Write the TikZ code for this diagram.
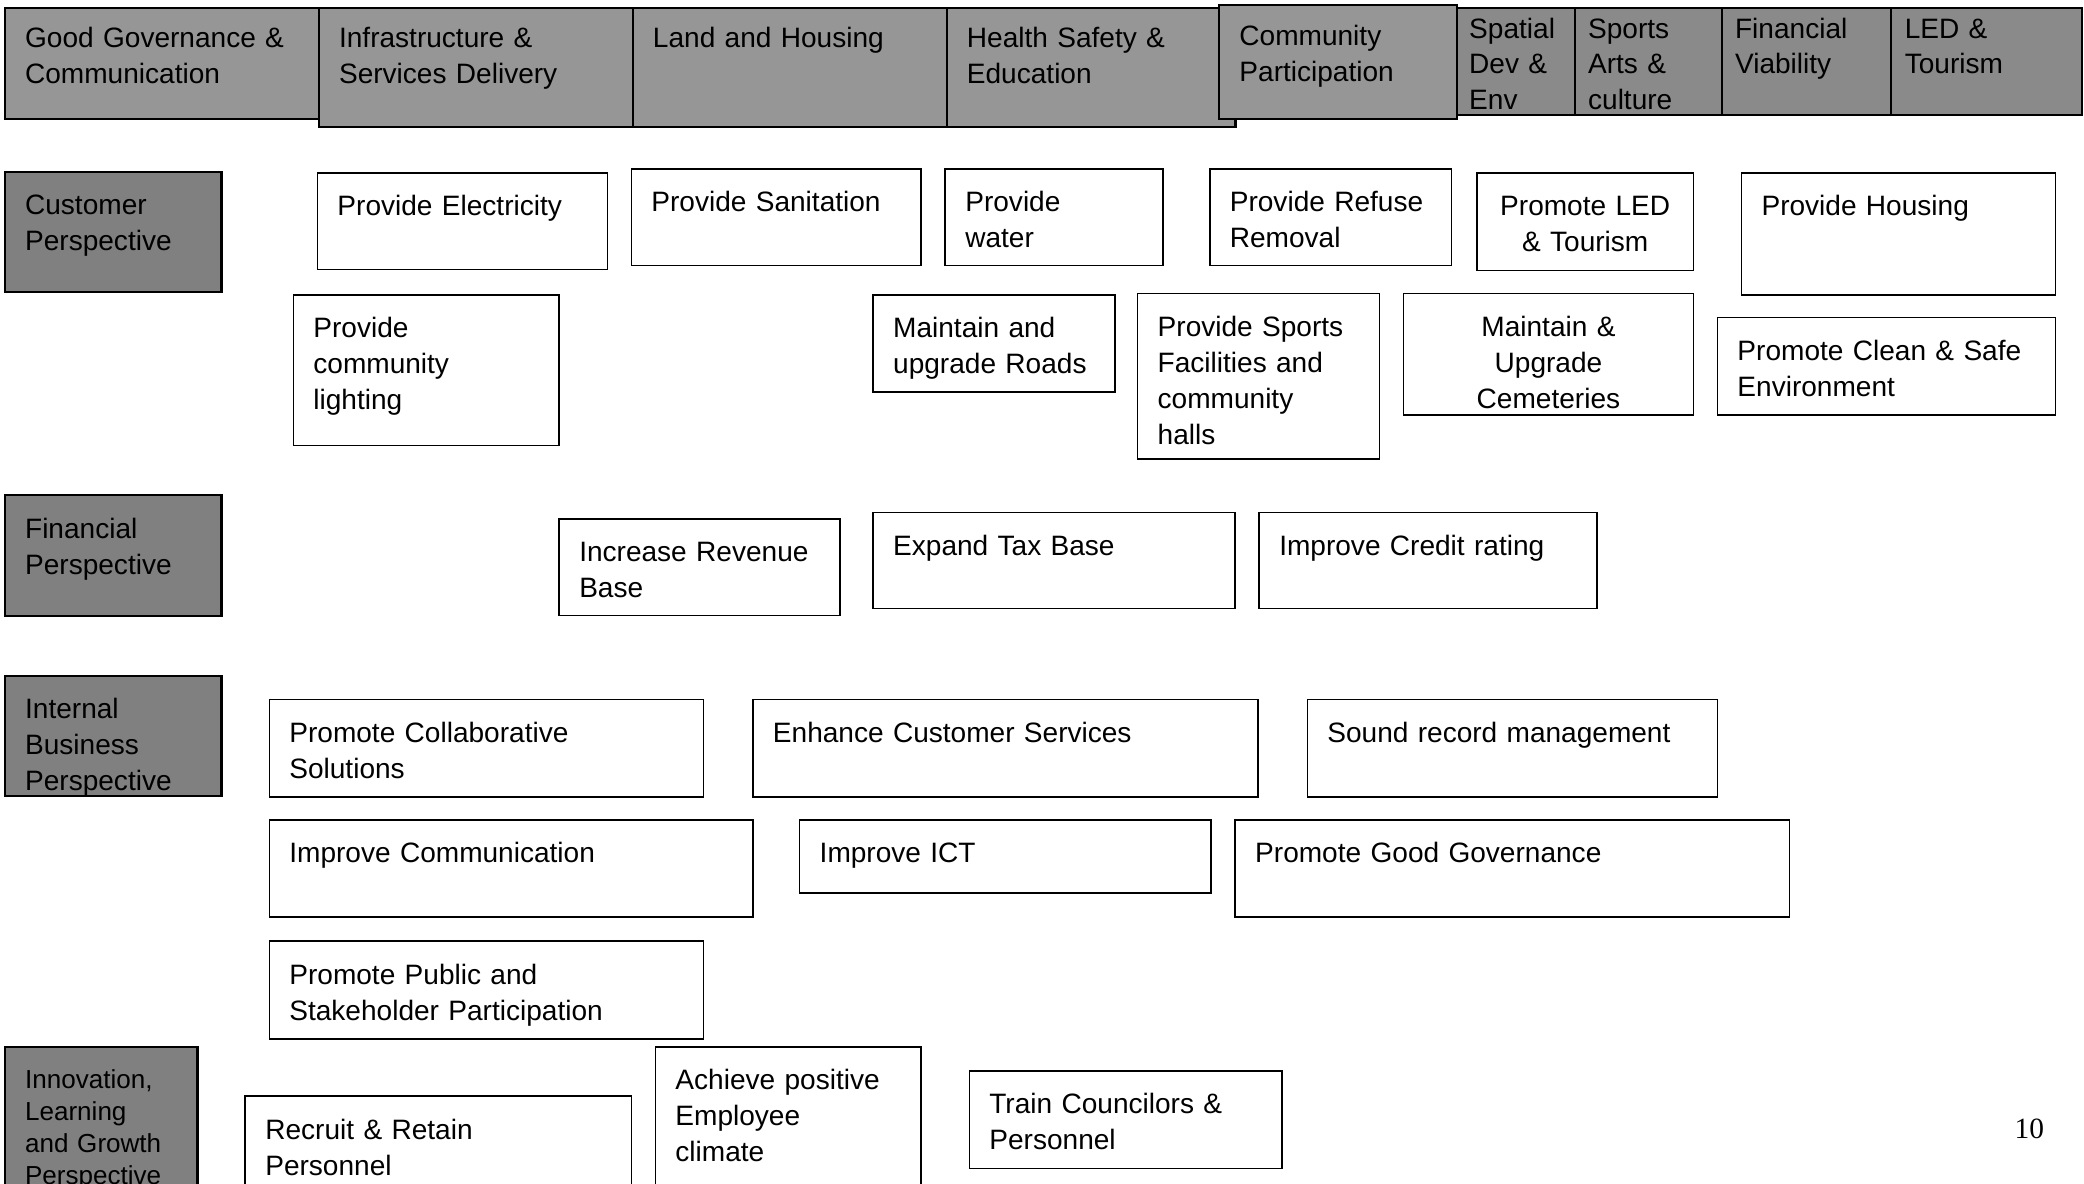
\documentclass[tikz,border=0pt]{standalone}
\usepackage{fontspec}
\setmainfont{Liberation Sans}
\newfontfamily\pagenofont{Liberation Serif}
\usetikzlibrary{positioning}

\definecolor{headgray}{RGB}{150,150,150}
\definecolor{rightgray}{RGB}{138,138,138}
\definecolor{sidegray}{RGB}{128,128,128}

\newcommand\padx{15}
\newcommand\padt{32}
\newcommand\boxfont{\fontsize{21}{27}\selectfont}
\newcommand\smallboxfont{\fontsize{19.5}{24}\selectfont}

\tikzset{
    pad/.code={\def\padx{#1}},
    lead/.code={\def\padt{#1}},
    wh/.style 2 args={/utils/exec={\pgfmathsetmacro\boxtw{#1-2*\padx}\pgfmathsetmacro\boxtd{#2-\padt}},
        text width=\boxtw pt, text height=\padt pt, text depth=\boxtd pt, inner xsep=\padx pt},
    base/.style={draw, anchor=north west, align=left, inner ysep=0pt, font=\boxfont},
    head/.style={base, fill=headgray, line width=1.6pt, lead=30},
    narrowhead/.style={head, fill=rightgray, pad=9, lead=23, font=\fontsize{21}{26.5}\selectfont},
    side/.style={base, fill=sidegray, line width=1.6pt},
    goal/.style={base, fill=white, line width=1.2pt},
}

\begin{document}
\begin{tikzpicture}[x=1pt, y=-1pt]
    \useasboundingbox (0,0) rectangle (1560,886);

    \node[head, wh={235}{83}]                   (gov)     at (3,5)      {Good Governance \&\\Communication};
    \node[head, wh={235}{89}]                   (infra)   at (238,5)    {Infrastructure \&\\Services Delivery};
    \node[head, wh={235}{89}]                   (land)    at (473,5)    {Land and Housing};
    \node[head, wh={216}{89}]                   (health)  at (708,5)    {Health Safety \&\\Education};
    \node[head, wh={178}{85}]                   (commp)   at (912,3)    {Community\\Participation};
    \node[narrowhead, wh={88}{80}]              (spatial) at (1090,5)   {Spatial\\Dev \&\\Env};
    \node[narrowhead, pad=10, wh={110}{80}]     (sports)  at (1178,5)   {Sports\\Arts \&\\culture};
    \node[narrowhead, pad=10, wh={127}{80}]     (finv)    at (1288,5)   {Financial\\Viability};
    \node[narrowhead, pad=10, wh={143}{80}]     (ledh)    at (1415,5)   {LED \&\\Tourism};

    \node[side, wh={162}{90}]                   (cust)    at (3,128)    {Customer\\Perspective};
    \node[side, wh={162}{90}]                   (finp)    at (3,370)    {Financial\\Perspective};
    \node[side, wh={162}{90}]                   (intp)    at (3,505)    {Internal\\Business\\Perspective};
    \node[side, lead=31, font=\smallboxfont, wh={144}{125}]
                                                (innp)    at (3,783)    {Innovation,\\Learning\\and Growth\\Perspective};

    \node[goal, wh={217}{72}]                   (elec)    at (237,129)  {Provide Electricity};
    \node[goal, wh={217}{72}]                   (sanit)   at (472,126)  {Provide Sanitation};
    \node[goal, wh={163}{72}]                   (water)   at (707,126)  {Provide\\water};
    \node[goal, wh={181}{72}]                   (refuse)  at (905,126)  {Provide Refuse\\Removal};
    \node[goal, align=center, wh={162}{73}]     (ledt)    at (1105,129) {Promote LED\\\& Tourism};
    \node[goal, wh={235}{91}]                   (housing) at (1303,129) {Provide Housing};
    \node[goal, wh={199}{113}]                  (light)   at (219,220)  {Provide\\community\\lighting};
    \node[goal, wh={181}{73}]                   (roads)   at (653,220)  {Maintain and\\upgrade Roads};
    \node[goal, wh={181}{124}]                  (halls)   at (851,219)  {Provide Sports\\Facilities and\\community\\halls};
    \node[goal, align=center, wh={217}{91}]     (cemet)   at (1050,219) {Maintain \&\\Upgrade\\Cemeteries};
    \node[goal, wh={253}{73}]                   (clean)   at (1285,237) {Promote Clean \& Safe\\Environment};

    \node[goal, wh={210}{72}]                   (revenue) at (418,388)  {Increase Revenue\\Base};
    \node[goal, wh={271}{72}]                   (taxbase) at (653,383)  {Expand Tax Base};
    \node[goal, wh={253}{72}]                   (credit)  at (942,383)  {Improve Credit rating};

    \node[goal, wh={325}{73}]                   (collab)  at (201,523)  {Promote Collaborative\\Solutions};
    \node[goal, wh={378}{73}]                   (custsvc) at (563,523)  {Enhance Customer Services};
    \node[goal, wh={307}{73}]                   (records) at (978,523)  {Sound record management};
    \node[goal, wh={362}{73}]                   (comm)    at (201,613)  {Improve Communication};
    \node[goal, wh={308}{55}]                   (ict)     at (598,613)  {Improve ICT};
    \node[goal, wh={415}{73}]                   (goodgov) at (924,613)  {Promote Good Governance};
    \node[goal, wh={325}{73}]                   (public)  at (201,704)  {Promote Public and\\Stakeholder Participation};

    \node[goal, wh={289}{90}]                   (recruit) at (183,820)  {Recruit \& Retain\\Personnel};
    \node[goal, wh={199}{125}]                  (climate) at (490,783)  {Achieve positive\\Employee\\climate};
    \node[goal, wh={234}{73}]                   (train)   at (725,801)  {Train Councilors \&\\Personnel};

    \node[font=\pagenofont\fontsize{22}{26}\selectfont] (pageno) at (1519,845) {10};
\end{tikzpicture}
\end{document}
